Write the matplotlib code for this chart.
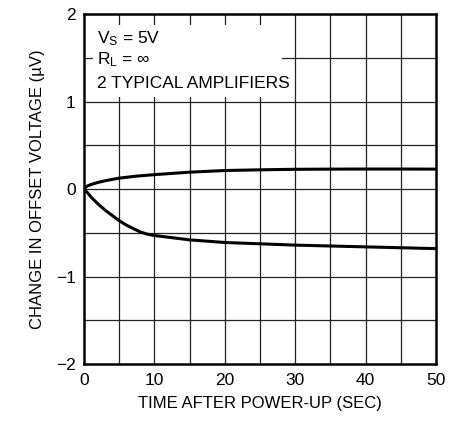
import matplotlib
matplotlib.use("Agg")
import matplotlib.pyplot as plt
from matplotlib import font_manager
from matplotlib.patches import Rectangle

names = {f.name for f in font_manager.fontManager.ttflist}
fam = ['Liberation Sans Narrow', 'Liberation Sans', 'DejaVu Sans']
fam = [f for f in fam if f in names] + ['DejaVu Sans']
plt.rcParams['font.family'] = fam

time_s = [0, 0.25, 0.5, 1, 2, 3, 5, 7.5, 10, 15, 20, 25, 30, 35, 40, 45, 50]
amp1 = [0, 0.022, 0.035, 0.052, 0.076, 0.095, 0.125, 0.148, 0.165, 0.193, 0.212, 0.22, 0.226,
        0.228, 0.229, 0.229, 0.228]
time2 = [0, 0.5, 1, 2, 3, 4, 5, 6, 7, 8, 9, 10, 15, 20, 25, 30, 35, 40, 45, 50]
amp2 = [0, -0.04, -0.09, -0.17, -0.24, -0.30, -0.36, -0.41, -0.45, -0.49, -0.515, -0.53,
        -0.58, -0.61, -0.625, -0.64, -0.65, -0.66, -0.67, -0.68]

xticks = [0, 10, 20, 30, 40, 50]
yticks = [-2, -1, 0, 1, 2]
ytick_labels = ['\u22122', '\u22121', '0', '1', '2']

fig = plt.figure(figsize=(4.61, 4.23), dpi=100)
ax = fig.add_axes([0.182, 0.139, 0.764, 0.828])
ax.set_xlim(0, 50)
ax.set_ylim(-2, 2)
for x in range(5, 50, 5):
    ax.axvline(x, color='#222222', lw=0.9, zorder=1)
for y in [-1.5, -1, -0.5, 0, 0.5, 1, 1.5]:
    ax.axhline(y, color='#222222', lw=0.9, zorder=1)
ax.add_patch(Rectangle((1.3, 1.05), 26.8, 0.82, facecolor='white', edgecolor='none', zorder=2))
ax.plot(time_s, amp1, color='black', lw=2.2, zorder=3, solid_capstyle='round')
ax.plot(time2, amp2, color='black', lw=2.2, zorder=3, solid_capstyle='round')
ax.set_xticks(xticks)
ax.set_yticks(yticks)
ax.set_yticklabels(ytick_labels)
ax.tick_params(length=0, labelsize=12.5, pad=6)
for s in ax.spines.values():
    s.set_linewidth(1.8)
ax.set_xlabel('TIME AFTER POWER-UP (SEC)', fontsize=12, labelpad=6)
ax.set_ylabel('CHANGE IN OFFSET VOLTAGE (\u00b5V)', fontsize=12, labelpad=8)
ax.text(1.8, 1.67, '$\\mathregular{V_S}$ = 5V', fontsize=12.5, zorder=4)
ax.text(1.8, 1.42, '$\\mathregular{R_L}$ = \u221e', fontsize=12.5, zorder=4)
ax.text(1.8, 1.16, '2 TYPICAL AMPLIFIERS', fontsize=12.5, zorder=4)
fig.savefig('out.png', dpi=100)
